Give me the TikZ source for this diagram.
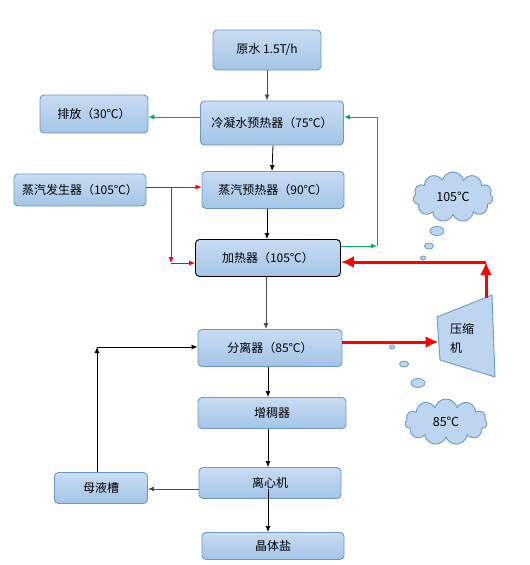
\documentclass[tikz,border=0pt]{standalone}
\usepackage{fontspec}
\setmainfont{Noto Sans CJK SC}
\usetikzlibrary{arrows.meta,shapes.symbols}
\definecolor{boxtop}{HTML}{C9DCF2}
\definecolor{boxbot}{HTML}{A3C4E8}
\definecolor{boxline}{HTML}{6A98CA}
\definecolor{flowgreen}{HTML}{00B050}
\definecolor{cloudfill}{HTML}{BDD5EE}
\tikzset{box/.style={draw=boxline,line width=0.9pt,rounded corners=4pt,top color=boxtop,bottom color=boxbot,
  font=\fontsize{12}{14}\selectfont,inner sep=2pt},
  flow/.style={-{Latex[length=6pt,width=5pt]},line width=0.8pt,black},
  steam/.style={flow,red},
  hot/.style={-{Latex[length=13pt,width=12pt]},red,line width=3pt},
  cool/.style={flow,flowgreen},
  bubble/.style={draw=boxline,line width=0.8pt,fill=cloudfill}}

\begin{document}
\begin{tikzpicture}[x=1pt,y=-1pt]
\useasboundingbox (0,0) rectangle (530,565);
% main line
\node[box,minimum width=108,minimum height=40](raw)at(267,50){原水 1.5T/h};
\node[box,minimum width=108,minimum height=38](vent)at(94,114){排放（30℃）};
\node[box,minimum width=143,minimum height=44](cond)at(272,123){冷凝水预热器（75℃）};
\node[box,minimum width=132,minimum height=32](gen)at(80,190){蒸汽发生器（105℃）};
\node[box,minimum width=142,minimum height=37](spre)at(273,190){蒸汽预热器（90℃）};
\node[box,draw=black,minimum width=145,minimum height=37](heat)at(268,258){加热器（105℃）};
\node[box,minimum width=144,minimum height=37](sep)at(270,348){分离器（85℃）};
\node[box,minimum width=148,minimum height=31](thick)at(272,413){增稠器};
\node[box,minimum width=142,minimum height=31](cent)at(270,483){离心机};
\node[box,minimum width=93,minimum height=31](tank)at(101,488){母液槽};
\node[box,minimum width=142,minimum height=27](salt)at(273,546){晶体盐};
% compressor
\coordinate(cA)at(437,317);\coordinate(cB)at(492,295);
\coordinate(cC)at(495,377);\coordinate(cD)at(440,360);
\draw[boxline,line width=0.9pt,fill=cloudfill](cA)--(cB)--(cC)--(cD)--cycle;
\node[align=left,font=\fontsize{12}{19}\selectfont](comp)at(462,338){压缩\\机};
\coordinate(cin)at(438.5,342);
\coordinate(cout)at(486,298);
% clouds
\node[cloud,cloud puffs=11,aspect=1.7,draw=boxline,line width=0.9pt,fill=cloudfill,minimum width=80,minimum height=50,
  inner sep=0pt,font=\fontsize{12.5}{14}\selectfont](hi)at(453,197){105℃};
\node[cloud,cloud puffs=11,aspect=1.7,draw=boxline,line width=0.9pt,fill=cloudfill,minimum width=82,minimum height=46,
  inner sep=0pt,font=\fontsize{12.5}{14}\selectfont](lo)at(446,422){85℃};
\draw[bubble](437,231)ellipse[x radius=7,y radius=4.5](429,246)ellipse[x radius=4.5,y radius=3]
(423,258)ellipse[x radius=2.5,y radius=2];
\draw[bubble](392,347)ellipse[x radius=2.5,y radius=2](404,364)ellipse[x radius=4.5,y radius=3]
(418,383)ellipse[x radius=7,y radius=4.5];
% connectors
\draw[flow,gray!60!black](raw)--(raw|-cond.north);
\draw[cool]([yshift=6]cond.west)--([yshift=6]cond.west-|vent.east);
\draw[flow](cond.south-|spre.north)--(spre.north-|cond.south);
\draw[flow]([xshift=-6]spre.south)--([xshift=-6]spre.south|-heat.north);
\draw[steam]([yshift=3]gen.east)--([yshift=3]gen.east-|spre.west);
\coordinate(s1)at(171,187);\coordinate(s2)at(171,263);
\draw[steam](s1)--(s2);\draw[steam](s2)--(s2-|heat.west);
\coordinate(g1)at(377,246);
\draw[cool]([yshift=12]heat.east)--(g1);\draw[cool](g1)|-([yshift=6]cond.east);
\draw[flow,gray!60!black]([xshift=-2]heat.south)--([xshift=-2]heat.south|-sep.north);
\draw[hot]([yshift=6]sep.east)--(cin);
\coordinate(r1)at(486,262);
\draw[hot](cout)--(r1);\draw[hot](r1)--(r1-|heat.east);
\draw[flow]([xshift=-2]sep.south)--([xshift=-2]sep.south|-thick.north);
\draw[flow]([xshift=-4]thick.south)--([xshift=-4]thick.south|-cent.north);
\draw[flow,gray!60!black]([yshift=-6]cent.west)--([yshift=-6]cent.west-|tank.east);
\draw[flow]([xshift=-2,yshift=-6]cent.center)--([xshift=-2]cent.center|-salt.north);
\coordinate(m1)at(97,347);
\draw[flow]([xshift=-4]tank.north)--(m1);\draw[flow](m1)--(m1-|sep.west);
\end{tikzpicture}
\end{document}
